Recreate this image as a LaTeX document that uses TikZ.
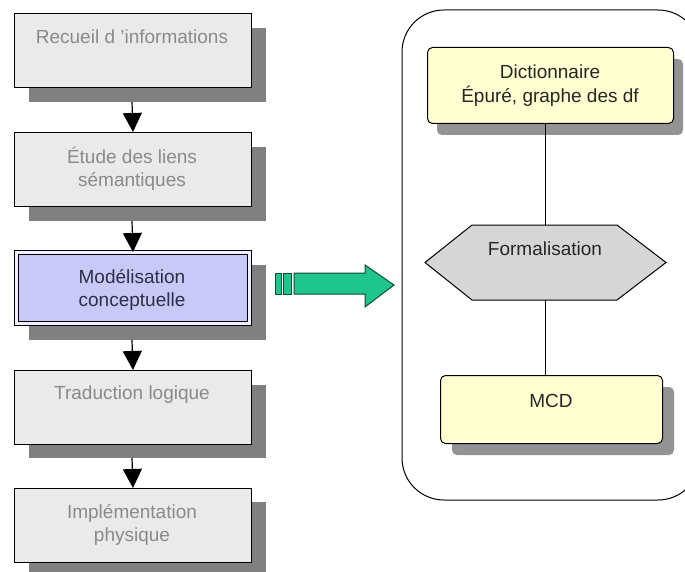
\documentclass[tikz,border=0pt]{standalone}
\usepackage{fontspec}
\setmainfont{Liberation Sans}
\usetikzlibrary{arrows.meta}
\definecolor{boxgray}{HTML}{EAEAEA}
\definecolor{txtgray}{HTML}{8A8A8A}
\definecolor{shadowgray}{HTML}{808080}
\definecolor{lavender}{HTML}{C9C9F7}
\definecolor{lavtxt}{HTML}{2E2E48}
\definecolor{paleyellow}{HTML}{FFFFD2}
\definecolor{hexgray}{HTML}{D6D6D6}
\definecolor{arrowgreen}{HTML}{1EC68E}
\definecolor{arrowedge}{HTML}{0E4A34}
\tikzset{
  stepbox/.style={draw=black, line width=1pt, fill=boxgray, minimum width=237pt, minimum height=74pt, anchor=north west, inner sep=0pt},
  activebox/.style={draw=black, double=white!70!lavender, double distance=2.5pt, line width=0.9pt, fill=lavender, minimum width=233pt, minimum height=71pt, anchor=north west, inner sep=0pt},
  flatshadow/.style={fill=shadowgray, draw=none},
  softshadow/.style={fill=shadowgray!85, draw=none, rounded corners=5pt},
  steptext/.style={font=\fontsize{19}{23}\selectfont, text=txtgray, align=center, anchor=base, inner sep=0pt},
  activetext/.style={font=\fontsize{19}{23}\selectfont, text=lavtxt, align=center, anchor=base, inner sep=0pt},
  darktext/.style={font=\fontsize{19}{24}\selectfont, text=black!85, align=center, anchor=base, inner sep=0pt},
  notebox/.style={draw=black, line width=1pt, fill=paleyellow, rounded corners=5pt, anchor=north west, inner sep=0pt},
  flowarrow/.style={line width=1.2pt, -{Triangle[width=19pt,length=19pt]}},
  link/.style={line width=1pt}
}
\begin{document}
\begin{tikzpicture}[x=1pt,y=-1pt]
\useasboundingbox (0,0) rectangle (685,572);
\clip (0,0) rectangle (685,572);
\fill[white] (0,0) rectangle (685,572);

% shadows of left boxes
\fill[flatshadow] (29,28) rectangle (266,102);
\fill[flatshadow] (29,147) rectangle (266,221);
\fill[flatshadow] (29,265) rectangle (266,340);
\fill[flatshadow] (29,385) rectangle (266,458);
\fill[flatshadow] (29,502) rectangle (266,577);

% left boxes
\node[stepbox] (b1) at (14,13) {};
\node[stepbox] (b2) at (14,132) {};
\node[activebox] (b3) at (16,252) {};
\node[stepbox] (b4) at (14,370) {};
\node[stepbox] (b5) at (14,488) {};

% left texts (base anchor = baseline of last line)
\node[steptext] (t1) at (132,44) {Recueil d 'informations};
\node[steptext] (t2) at (132,186) {Étude des liens\\sémantiques};
\node[activetext] (t3) at (132,306) {Modélisation\\conceptuelle};
\node[steptext] (t4) at (132,399) {Traduction logique};
\node[steptext] (t5) at (132,541) {Implémentation\\physique};

% arrows between steps (visible below shadows)
\coordinate (a1) at (132,102);
\coordinate (a2) at (132,221);
\coordinate (a3) at (132,340);
\coordinate (a4) at (132,458);
\draw[flowarrow] (a1) -- (b1.south |- b2.north);
\draw[flowarrow] (a2) -- (b2.south |- b3.north);
\draw[flowarrow] (a3) -- (b3.south |- b4.north);
\draw[flowarrow] (a4) -- (b4.south |- b5.north);

% green arrow
\draw[fill=arrowgreen, draw=arrowedge, line width=1pt] (275,273) rectangle (281,294);
\draw[fill=arrowgreen, draw=arrowedge, line width=1pt] (283,273) rectangle (291,294);
\draw[fill=arrowgreen, draw=arrowedge, line width=1pt, line join=miter]
  (294,273) -- (365,273) -- (365,265) -- (394,285) -- (365,307) -- (365,294) -- (294,294) -- cycle;

% container
\draw[line width=1pt, rounded corners=42pt] (402,10) rectangle (700,500);

% right shadows
\fill[softshadow] (437,59) rectangle (683,135);
\fill[softshadow] (452,387) rectangle (674,455);

% right nodes
\node[notebox, minimum width=246pt, minimum height=76pt] (dict) at (427,47) {};
\node[notebox, minimum width=222pt, minimum height=68pt] (mcd) at (440,375) {};

% hexagon
\fill[hexgray] (472,225) -- (617,225) -- (666,262.5) -- (617,300) -- (472,300) -- (425,262.5) -- cycle;
\draw[line width=1pt] (472,225) -- (617,225) -- (666,262.5) -- (617,300) -- (472,300) -- (425,262.5) -- cycle;
\coordinate (hextop) at (545.5,225);
\coordinate (hexbot) at (545.5,300);

\draw[link] (hextop) -- (hextop |- dict.south);
\draw[link] (hexbot) -- (hexbot |- mcd.north);

\node[darktext] (d1) at (550,103) {Dictionnaire\\Épuré, graphe des df};
\node[darktext] (f1) at (545,255) {Formalisation};
\node[darktext] (m1) at (551,407) {MCD};
\end{tikzpicture}
\end{document}
